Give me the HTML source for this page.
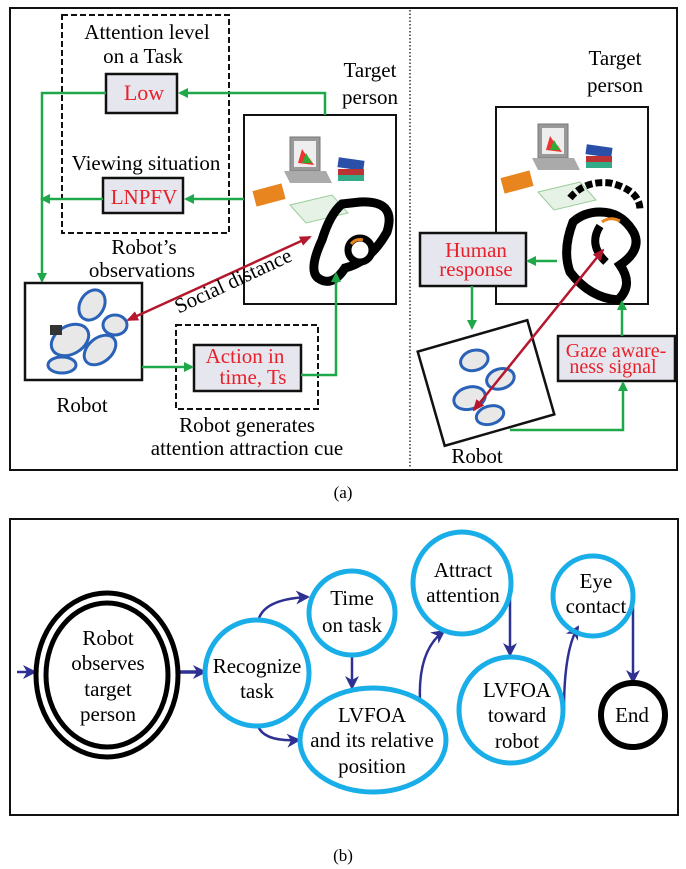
<!DOCTYPE html>
<html><head><meta charset="utf-8"><style>
html,body{margin:0;padding:0;background:#fff}
svg{display:block}
text{font-family:"Liberation Serif",serif}
</style></head><body>
<svg width="686" height="869" viewBox="0 0 686 869" xmlns="http://www.w3.org/2000/svg">
<defs>
<marker id="g" markerWidth="10" markerHeight="10" refX="8" refY="5" orient="auto" markerUnits="userSpaceOnUse"><path d="M0,0 L10,5 L0,10 Z" fill="#1ea84a"/></marker>
<marker id="r" markerWidth="12" markerHeight="10" refX="10" refY="5" orient="auto-start-reverse" markerUnits="userSpaceOnUse"><path d="M0,0 L12,5 L0,10 Z" fill="#b5182e"/></marker>
<marker id="b" markerWidth="14" markerHeight="14" refX="12" refY="7" orient="auto" markerUnits="userSpaceOnUse"><path d="M0,0 L14,7 L0,14 L4,7 Z" fill="#2e3192"/></marker>
<g id="desk">
<rect x="42" y="12" width="30" height="34" fill="#999" stroke="#777"/><rect x="46" y="16" width="22" height="26" fill="#eee"/>
<path d="M50,38 L54,24 L58,30 L62,34 L66,40 Z" fill="#e33"/><path d="M54,38 L58,28 L64,38Z" fill="#3a3"/>
<path d="M36,46 L78,46 L84,58 L42,58 Z" fill="#aaa"/>
<rect x="90" y="34" width="26" height="10" fill="#2a4fa8" transform="rotate(8 103 39)"/><rect x="90" y="44" width="26" height="6" fill="#b33"/><rect x="90" y="50" width="26" height="6" fill="#3a8"/>
<rect x="6" y="62" width="30" height="16" fill="#e8851e" transform="rotate(-15 21 70)"/>
<path d="M42,80 L84,70 L100,88 L58,98 Z" fill="#e6f2e6" stroke="#9c9"/>
</g>
</defs>

<!-- panel a -->
<rect x="10" y="8" width="667" height="462" fill="none" stroke="#111" stroke-width="2"/>
<line x1="410" y1="10" x2="410" y2="468" stroke="#333" stroke-width="1.5" stroke-dasharray="1.5,2"/>

<rect x="62" y="15" width="167" height="218" fill="none" stroke="#111" stroke-width="2" stroke-dasharray="6,3"/>
<text x="147" y="39" font-size="21" text-anchor="middle">Attention level</text>
<text x="143" y="63" font-size="21" text-anchor="middle">on a Task</text>
<rect x="106" y="74" width="71" height="39" fill="#e6e6ee" stroke="#111" stroke-width="2.5"/>
<text x="144" y="100" font-size="22" fill="#e8202a" text-anchor="middle">Low</text>
<text x="146" y="170" font-size="21" text-anchor="middle">Viewing situation</text>
<rect x="103" y="178" width="80" height="35" fill="#e6e6ee" stroke="#111" stroke-width="2.5"/>
<text x="144" y="204" font-size="21" fill="#e8202a" text-anchor="middle">LNPFV</text>
<text x="144" y="254" font-size="21" text-anchor="middle">Robot’s</text>
<text x="142" y="277" font-size="21" text-anchor="middle">observations</text>

<text x="370" y="77" font-size="21" text-anchor="middle">Target</text>
<text x="370" y="104" font-size="21" text-anchor="middle">person</text>
<rect x="244" y="115" width="152" height="189" fill="#fff" stroke="#111" stroke-width="2"/>
<use href="#desk" x="248" y="125"/>
<path d="M322,240 Q308,270 318,278 Q332,288 345,268 Q370,262 387,232 Q397,200 360,202 L342,204 Q330,214 322,240 Z" fill="none" stroke="#000" stroke-width="9"/>
<circle cx="360" cy="250" r="12" fill="#fff" stroke="#000" stroke-width="7"/>
<path d="M351,244 Q356,238 363,240" stroke="#e8851e" stroke-width="3" fill="none"/>

<path d="M325,115 L325,93 L180,93" fill="none" stroke="#1ea84a" stroke-width="2.5" marker-end="url(#g)"/>
<path d="M106,93 L42,93 L42,281" fill="none" stroke="#1ea84a" stroke-width="2.5" marker-end="url(#g)"/>
<path d="M244,199 L186,199" fill="none" stroke="#1ea84a" stroke-width="2.5" marker-end="url(#g)"/>
<path d="M103,199 L42,199" fill="none" stroke="#1ea84a" stroke-width="2.5" marker-end="url(#g)"/>

<rect x="25" y="283" width="117" height="97" fill="#fff" stroke="#111" stroke-width="2.5"/>
<g fill="#e8e8e8" stroke="#2a62b8" stroke-width="3">
<ellipse cx="92" cy="305" rx="12" ry="16" transform="rotate(30 92 305)"/>
<ellipse cx="115" cy="325" rx="12" ry="10"/>
<ellipse cx="70" cy="340" rx="20" ry="14" transform="rotate(-30 70 340)"/>
<ellipse cx="100" cy="350" rx="18" ry="12" transform="rotate(-40 100 350)"/>
<ellipse cx="62" cy="365" rx="14" ry="8"/>
</g>
<rect x="50" y="325" width="12" height="10" fill="#333"/>
<text x="82" y="412" font-size="21" text-anchor="middle">Robot</text>

<line x1="128" y1="320" x2="310" y2="237" stroke="#b5182e" stroke-width="2.5" marker-start="url(#r)" marker-end="url(#r)"/>
<text x="0" y="0" font-size="21" text-anchor="middle" transform="translate(236,287) rotate(-25)">Social distance</text>

<rect x="176" y="325" width="142" height="84" fill="none" stroke="#111" stroke-width="2" stroke-dasharray="6,3"/>
<rect x="194" y="345" width="107" height="46" fill="#e6e6ee" stroke="#111" stroke-width="2.5"/>
<text x="245" y="363" font-size="21" fill="#e8202a" text-anchor="middle">Action in</text>
<text x="253" y="384" font-size="21" fill="#e8202a" text-anchor="middle">time, Ts</text>
<path d="M142,367 L192,367" fill="none" stroke="#1ea84a" stroke-width="2.5" marker-end="url(#g)"/>
<path d="M301,375 L336,375 L336,274" fill="none" stroke="#1ea84a" stroke-width="2.5" marker-end="url(#g)"/>
<text x="247" y="432" font-size="21" text-anchor="middle">Robot generates</text>
<text x="247" y="455" font-size="21" text-anchor="middle">attention attraction cue</text>

<!-- right side -->
<text x="615" y="65" font-size="21" text-anchor="middle">Target</text>
<text x="615" y="92" font-size="21" text-anchor="middle">person</text>
<rect x="496" y="107" width="152" height="197" fill="#fff" stroke="#111" stroke-width="2"/>
<use href="#desk" x="496" y="112"/>
<path d="M570,198 Q585,180 610,183 Q640,190 640,210" fill="none" stroke="#000" stroke-width="7" stroke-dasharray="7,3"/>
<path d="M573,222 Q562,250 570,272 Q590,298 618,300 Q634,285 620,265 Q642,250 634,233 Q622,212 600,212 Q584,212 573,222 Z" fill="none" stroke="#000" stroke-width="9"/>
<path d="M600,226 Q588,245 606,262" fill="none" stroke="#000" stroke-width="8"/>
<path d="M602,222 Q610,216 620,221" stroke="#e8851e" stroke-width="3" fill="none"/>

<rect x="420" y="233" width="106" height="53" fill="#e6e6ee" stroke="#111" stroke-width="2.5"/>
<text x="476" y="257" font-size="21" fill="#e8202a" text-anchor="middle">Human</text>
<text x="476" y="276" font-size="21" fill="#e8202a" text-anchor="middle">response</text>
<path d="M557,261 L528,261" fill="none" stroke="#1ea84a" stroke-width="2.5" marker-end="url(#g)"/>
<path d="M472,286 L472,328" fill="none" stroke="#1ea84a" stroke-width="2.5" marker-end="url(#g)"/>

<g transform="translate(486,383) rotate(-16)">
<rect x="-57" y="-49" width="114" height="98" fill="#fff" stroke="#111" stroke-width="2.5"/>
<g fill="#e8e8e8" stroke="#2a62b8" stroke-width="3">
<ellipse cx="-5" cy="-25" rx="14" ry="10"/>
<ellipse cx="15" cy="0" rx="14" ry="10"/>
<ellipse cx="-20" cy="10" rx="16" ry="11"/>
<ellipse cx="-5" cy="32" rx="14" ry="9"/>
</g>
</g>
<text x="477" y="463" font-size="21" text-anchor="middle">Robot</text>

<rect x="558" y="336" width="117" height="45" fill="#e6e6ee" stroke="#111" stroke-width="2.5"/>
<text x="616" y="357" font-size="20" fill="#e8202a" text-anchor="middle">Gaze aware-</text>
<text x="613" y="373" font-size="20" fill="#e8202a" text-anchor="middle">ness signal</text>
<path d="M622,336 L622,302" fill="none" stroke="#1ea84a" stroke-width="2.5" marker-end="url(#g)"/>
<path d="M510,430 L623,430 L623,383" fill="none" stroke="#1ea84a" stroke-width="2.5" marker-end="url(#g)"/>
<line x1="474" y1="410" x2="603" y2="250" stroke="#b5182e" stroke-width="2.5" marker-start="url(#r)" marker-end="url(#r)"/>

<text x="343" y="498" font-size="17" text-anchor="middle">(a)</text>

<!-- panel b -->
<rect x="10" y="519" width="668" height="296" fill="none" stroke="#111" stroke-width="2"/>
<g fill="none" stroke="#2e3192" stroke-width="2.5">
<path d="M17,672 L35,672" marker-end="url(#b)"/>
<path d="M179,672 L205,672" stroke-width="3.5" marker-end="url(#b)"/>
<path d="M258,622 Q262,599 308,597" marker-end="url(#b)"/>
<path d="M258,726 Q264,742 299,740" marker-end="url(#b)"/>
<path d="M352,656 L352,688" marker-end="url(#b)"/>
<path d="M420,700 Q418,650 444,631" marker-end="url(#b)"/>
<path d="M510,584 L510,655" marker-end="url(#b)"/>
<path d="M564,710 Q564,650 578,627" marker-end="url(#b)"/>
<path d="M633,597 L633,682" marker-end="url(#b)"/>
</g>
<ellipse cx="107" cy="675" rx="71" ry="82" fill="none" stroke="#000" stroke-width="5"/>
<ellipse cx="107" cy="675" rx="61" ry="72" fill="none" stroke="#000" stroke-width="5"/>
<g fill="none" stroke="#1aaee8" stroke-width="5">
<ellipse cx="257" cy="673" rx="52" ry="53"/>
<ellipse cx="352" cy="613" rx="43" ry="42"/>
<ellipse cx="373" cy="740" rx="73" ry="52"/>
<ellipse cx="462" cy="583" rx="49" ry="51"/>
<ellipse cx="511" cy="710" rx="52" ry="53"/>
<ellipse cx="593" cy="596" rx="40" ry="40"/>
</g>
<circle cx="633" cy="715" r="32" fill="none" stroke="#000" stroke-width="6"/>
<g font-size="21" text-anchor="middle">
<text x="108" y="645">Robot</text><text x="108" y="670">observes</text><text x="108" y="696">target</text><text x="108" y="721">person</text>
<text x="257" y="673">Recognize</text><text x="257" y="698">task</text>
<text x="352" y="605">Time</text><text x="352" y="632">on task</text>
<text x="372" y="722">LVFOA</text><text x="372" y="747">and its relative</text><text x="372" y="773">position</text>
<text x="463" y="577">Attract</text><text x="463" y="602">attention</text>
<text x="517" y="697">LVFOA</text><text x="517" y="722">toward</text><text x="517" y="748">robot</text>
<text x="596" y="588">Eye</text><text x="596" y="613">contact</text>
<text x="632" y="722">End</text>
</g>
<text x="343" y="861" font-size="17" text-anchor="middle">(b)</text>
</svg>
</body></html>
